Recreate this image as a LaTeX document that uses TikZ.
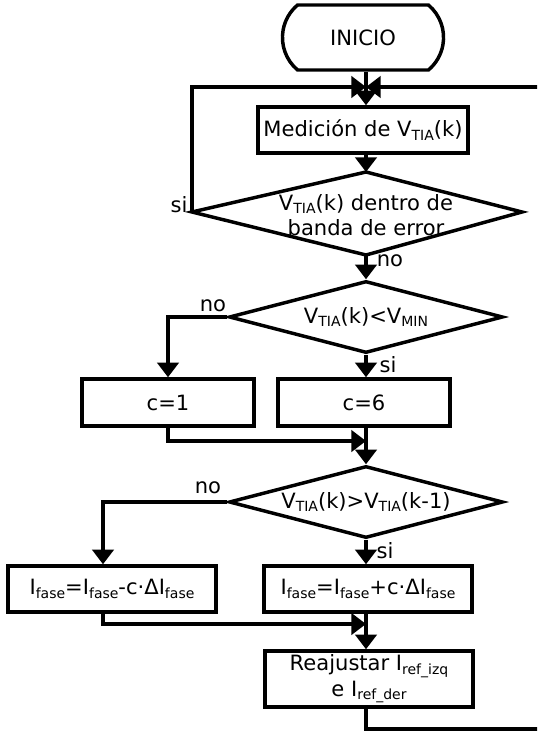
\documentclass[tikz,border=0pt]{standalone}
\usepackage{fontspec}
\setmainfont{DejaVu Sans}
\usetikzlibrary{arrows.meta,shapes.geometric,shapes.misc}
\newcommand{\lo}[1]{\raisebox{-0.3ex}{\fontsize{10.5}{11}\selectfont #1}}

\begin{document}
\begin{tikzpicture}[x=0.75pt,y=-0.75pt,line width=2.6pt,
	every node/.style={font=\fontsize{15.8}{19}\selectfont},
	caja/.style={draw,rectangle,inner sep=0pt,align=center},
	decision/.style={draw,diamond,inner sep=0pt,aspect=3.8,minimum width=205.5pt,minimum height=54pt},
	flecha/.style={-{Triangle[length=11pt,width=16pt]}},
	etiqueta/.style={inner sep=0pt}]
	% page
	\useasboundingbox (0,0) rectangle (537,731);
	\clip (0,0) rectangle (537,731);
	
	% start
	\node[draw,rounded rectangle,rounded rectangle arc length=100,minimum width=127.5pt,minimum height=48.75pt] (inicio) at (363,37.5) {INICIO};
	\coordinate (jn) at (366,87);
	
	% measurement
	\node[caja,minimum width=157.5pt,minimum height=34.5pt] (medicion) at (363,130) {Medición de V\lo{TIA}(k)};
	
	% decision 1
	\node[align=center,inner sep=0pt] (dec1) at (366,215) {V\lo{TIA}(k) dentro de\\banda de error};
	\coordinate (d1t) at (366,172);
	\coordinate (d1r) at (522,212);
	\coordinate (d1b) at (366,255);
	\coordinate (d1l) at (192,212);
	\draw (d1t) -- (d1r) -- (d1b) -- (d1l) -- cycle;
	
	% decision 2 and c
	\node[decision] (dec2) at (366,317) {V\lo{TIA}(k)<V\lo{MIN}};
	\node[caja,minimum width=129pt,minimum height=35.25pt] (c1) at (168,402.5) {c=1};
	\node[caja,minimum width=129pt,minimum height=35.25pt] (c6) at (364,402.5) {c=6};
	\coordinate (m1) at (366,441);
	
	% decision 3 and I fase
	\node[decision] (dec3) at (366,502) {V\lo{TIA}(k)>V\lo{TIA}(k-1)};
	\node[caja,minimum width=156pt,minimum height=34.5pt] (fmenos) at (112,589) {I\lo{fase}=I\lo{fase}-c·ΔI\lo{fase}};
	\node[caja,minimum width=156pt,minimum height=34.5pt] (fmas) at (368,589) {I\lo{fase}=I\lo{fase}+c·ΔI\lo{fase}};
	\coordinate (colL) at (103,0);
	\coordinate (m2) at (366,624);
	
	% adjust
	\node[caja,minimum width=156pt,minimum height=42pt] (reaj) at (369,679) {Reajustar I\lo{ref\_izq}\\e I\lo{ref\_der}};
	\coordinate (back) at (548,729);
	\coordinate (ret) at (548,87);
	
	% connectors
	\draw[flecha] (inicio.south -| jn) -- (medicion.north -| jn);
	\draw[flecha] (d1l) |- (jn);
	\draw[flecha] (reaj.south -| m2) |- (back) -- (ret) -- (jn);
	\draw[flecha] (medicion.south -| d1t) -- (d1t);
	\draw[flecha] (d1b) -- (dec2);
	\draw[flecha] (dec2.west) -| (c1.north);
	\draw[flecha] (dec2) -- (c6.north -| dec2);
	\draw[flecha] (c1.south) |- (m1);
	\draw[flecha] (c6.south -| dec3) -- (dec3);
	\draw[flecha] (dec3.west) -| (colL |- fmenos.north);
	\draw[flecha] (dec3) -- (fmas.north -| dec3);
	\draw[flecha] (colL |- fmenos.south) |- (m2);
	\draw[flecha] (fmas.south -| m2) -- (reaj.north -| m2);
	
	% labels
	\node[etiqueta] (si1) at (179,205) {si};
	\node[etiqueta] (no1) at (390,261) {no};
	\node[etiqueta] (no2) at (213,306) {no};
	\node[etiqueta] (si2) at (388,365) {si};
	\node[etiqueta] (no3) at (208,488) {no};
	\node[etiqueta] (si3) at (385,551) {si};
\end{tikzpicture}
\end{document}
